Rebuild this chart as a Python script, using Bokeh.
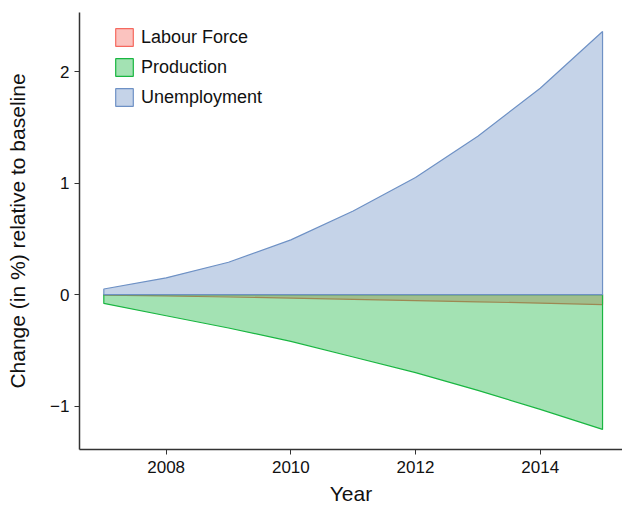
from bokeh.plotting import figure
from bokeh.models import Range1d, FixedTicker, Legend, LegendItem
from bokeh.embed import file_html
from bokeh.resources import INLINE

years = [2007, 2008, 2009, 2010, 2011, 2012, 2013, 2014, 2015]
labour_force = [-0.005, -0.013, -0.022, -0.032, -0.043, -0.054, -0.065, -0.077, -0.09]
production = [-0.08, -0.19, -0.30, -0.42, -0.56, -0.70, -0.86, -1.03, -1.21]
unemployment = [0.05, 0.15, 0.29, 0.49, 0.75, 1.05, 1.42, 1.85, 2.36]

series_names = ["Labour Force", "Production", "Unemployment"]
series_values = [labour_force, production, unemployment]
series_colors = ["#F5695F", "#19B641", "#6E91C5"]

FONT = "Liberation Sans"

p = figure(width=622, height=507, output_backend="svg", toolbar_location=None,
           x_range=Range1d(2006.61, 2015.32), y_range=Range1d(-1.39, 2.53),
           min_border_left=79, min_border_right=0, min_border_top=12, min_border_bottom=57)
p.outline_line_color = None
p.xgrid.visible = False
p.ygrid.visible = False

items = []
for name, vals, col in zip(series_names, series_values, series_colors):
    xs = years + years[::-1]
    ys = vals + [0.0] * len(years)
    r = p.patch(xs, ys, fill_color=col, fill_alpha=0.4, line_color=col, line_width=1.2)
    items.append(LegendItem(label=name, renderers=[r]))

legend = Legend(items=items, location=(34, 341))
legend.border_line_color = None
legend.background_fill_alpha = 0
legend.label_text_font = FONT
legend.label_text_font_size = "18px"
legend.label_text_color = "#111111"
legend.glyph_width = 22
legend.glyph_height = 22
legend.spacing = 8
legend.margin = 0
legend.padding = 0
legend.label_standoff = 6
legend.label_height = 22
p.add_layout(legend)

p.xaxis.ticker = FixedTicker(ticks=[2008, 2010, 2012, 2014])
p.yaxis.ticker = FixedTicker(ticks=[-1, 0, 1, 2])
p.yaxis.major_label_overrides = {-1: "\u22121"}
p.xaxis.axis_label = "Year"
p.yaxis.axis_label = "Change (in %) relative to baseline"
for ax in (p.xaxis, p.yaxis):
    ax.axis_line_color = "#333333"
    ax.axis_line_width = 1.5
    ax.major_tick_line_color = "#333333"
    ax.major_tick_out = 5
    ax.major_tick_in = 0
    ax.minor_tick_line_color = None
    ax.major_label_text_font = FONT
    ax.major_label_text_font_size = "17px"
    ax.major_label_text_color = "#111111"
    ax.axis_label_text_font = FONT
    ax.axis_label_text_font_size = "21px"
    ax.axis_label_text_font_style = "normal"
    ax.axis_label_text_color = "#111111"
p.yaxis.major_label_orientation = 0
p.xaxis.major_label_standoff = 6
p.yaxis.major_label_standoff = 5
p.xaxis.axis_label_standoff = 6
p.yaxis.axis_label_standoff = 18

open("out.html", "w").write(file_html(p, INLINE))
